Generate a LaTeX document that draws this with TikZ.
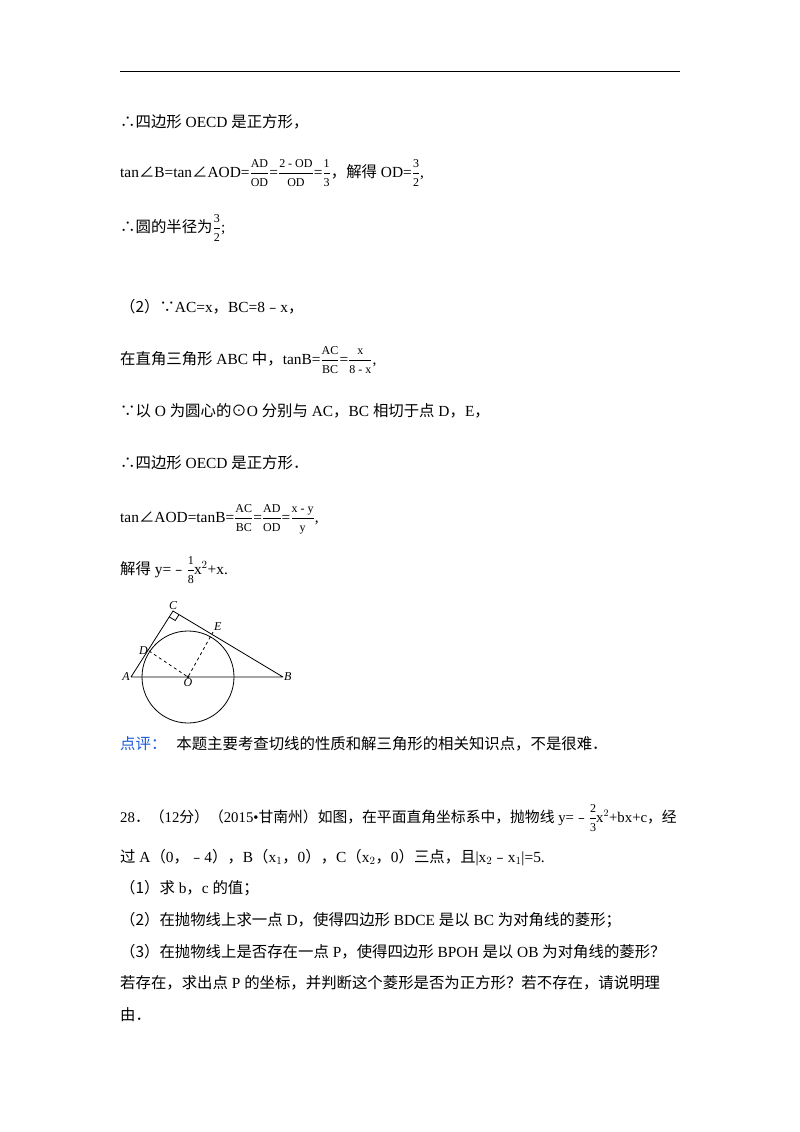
\documentclass[tikz,border=0pt]{standalone}
\usepackage{fontspec}
\usetikzlibrary{calc}
\setmainfont{Liberation Serif}
\newfontfamily\cjk{Noto Sans CJK SC}
\newcommand{\zh}[1]{{\cjk #1}}
\newcommand{\fr}[2]{$\displaystyle\frac{\mbox{\fontsize{12}{13}\selectfont #1}}{\mbox{\fontsize{12}{13}\selectfont #2}}$}
\begin{document}
\begin{tikzpicture}[x=1pt,y=-1pt,
  ln/.style={anchor=base west,inner sep=0pt,font=\fontsize{15.4}{17}\selectfont},
  fig/.style={font=\fontsize{12}{14}\selectfont\itshape,inner sep=1pt}]
\useasboundingbox (0,0) rectangle (800,1132);
\draw[line width=1pt] (120,72) -- (680,72);
\node[ln] (l1) at (120,127) {\zh{∴四边形} OECD \zh{是正方形，}};
\node[ln] (l2) at (120,177) {tan\zh{∠}B=tan\zh{∠}AOD=\fr{AD}{OD}=\fr{2 - OD}{OD}=\fr{1}{3}\zh{，解得} OD=\fr{3}{2},};
\node[ln] (l3) at (120,232) {\zh{∴圆的半径为}\fr{3}{2};};
\node[ln] (l4) at (120,312) {\zh{（2）∵}AC=x\zh{，}BC=8\zh{﹣}x\zh{，}};
\node[ln] (l5) at (120,364) {\zh{在直角三角形} ABC \zh{中，}tanB=\fr{AC}{BC}=\fr{x}{8 - x},};
\node[ln] (l6) at (120,416) {\zh{∵以} O \zh{为圆心的⊙}O \zh{分别与} AC\zh{，}BC \zh{相切于点} D\zh{，}E\zh{，}};
\node[ln] (l7) at (120,468) {\zh{∴四边形} OECD \zh{是正方形．}};
\node[ln] (l8) at (120,522) {tan\zh{∠}AOD=tanB=\fr{AC}{BC}=\fr{AD}{OD}=\fr{x - y}{y},};
\node[ln] (l9) at (120,574) {\zh{解得} y=\zh{﹣}\fr{1}{8}\kern-1pt x$^2$+x.};
% figure
\begin{scope}[line width=0.8pt]
\coordinate (A) at (131,677);
\coordinate (B) at (283,677);
\coordinate (C) at (173,611);
\coordinate (O) at (188,677);
\coordinate (D) at (149,651);
\coordinate (E) at (213,632);
\draw (O) circle (46);
\draw (A) -- (B) (A) -- (C) -- (B);
\draw[dashed] (D) -- (O) -- (E);
\fill (O) circle (1.3);
\draw ($(C)!7pt!(A)$) -- ($(C)!7pt!(A)+(C)!7pt!(B)-(C)$) -- ($(C)!7pt!(B)$);
\end{scope}
\node[fig,left] (nA) at (A) {A};
\node[fig,right] (nB) at (B) {B};
\node[fig,above] (nC) at (C) {C};
\node[fig,left] (nD) at (D) {D};
\node[fig,above right] (nE) at (E) {E};
\node[fig,below] (nO) at (O) {O};
\node[ln] (l10) at (120,749) {\textcolor[rgb]{0.1,0.35,0.85}{\zh{点评：}}\hspace{10pt}\zh{本题主要考查切线的性质和解三角形的相关知识点，不是很难．}};
\node[ln,font=\fontsize{14.8}{17}\selectfont] (l11) at (120,822) {28\zh{．（}12\zh{分）（}2015•\zh{甘南州）如图，在平面直角坐标系中，抛物线} y=\zh{﹣}\fr{2}{3}\kern-1pt x$^2$+bx+c\zh{，经}};
\node[ln] (l12) at (120,862) {\zh{过} A\zh{（}0\zh{，﹣}4\zh{），}B\zh{（}x$_1$\zh{，}0\zh{），}C\zh{（}x$_2$\zh{，}0\zh{）三点，且}|x$_2$\zh{﹣}x$_1$|=5.};
\node[ln] (l13) at (120,893) {\zh{（1）求} b\zh{，}c \zh{的值；}};
\node[ln] (l14) at (120,925) {\zh{（2）在抛物线上求一点} D\zh{，使得四边形} BDCE \zh{是以} BC \zh{为对角线的菱形；}};
\node[ln] (l15) at (120,957) {\zh{（3）在抛物线上是否存在一点} P\zh{，使得四边形} BPOH \zh{是以} OB \zh{为对角线的菱形？}};
\node[ln] (l16) at (120,988) {\zh{若存在，求出点} P \zh{的坐标，并判断这个菱形是否为正方形？若不存在，请说明理}};
\node[ln] (l17) at (120,1020) {\zh{由．}};
\end{tikzpicture}
\end{document}
